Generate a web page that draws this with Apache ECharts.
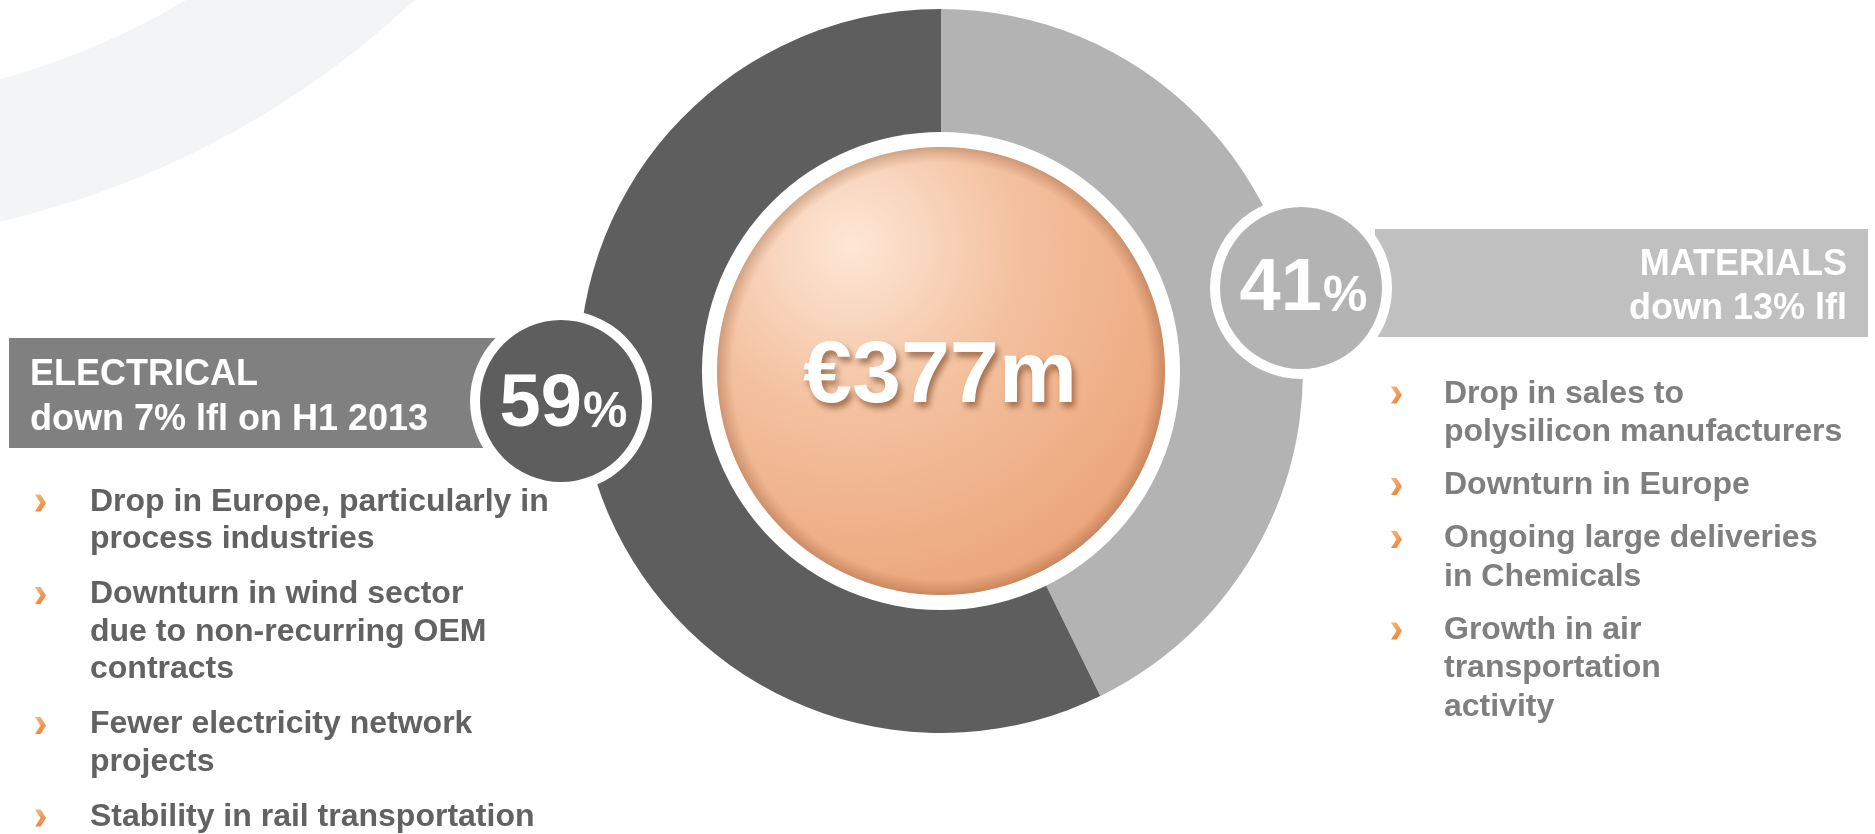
<!DOCTYPE html>
<html>
<head>
<meta charset="utf-8">
<script src="https://cdn.jsdelivr.net/npm/echarts@6/dist/echarts.min.js"></script>
<style>
  html, body { margin: 0; padding: 0; background: #ffffff; }
  #chart { width: 1875px; height: 834px; }
</style>
</head>
<body>
<div id="chart"></div>
<script>
// ---- data ----
const categories = ['MATERIALS', 'ELECTRICAL'];
// arc shares as drawn in the reference donut (split)
const segmentShares = [42.75, 57.25];
const shareLabels = ['41', '59'];
const headlineMaterials = ['MATERIALS', 'down 13% lfl'];
const headlineElectrical = ['ELECTRICAL', 'down 7% lfl on H1 2013'];
const totalLabel = '€377m';
const electricalBullets = [
  ['Drop in Europe, particularly in', 'process industries'],
  ['Downturn in wind sector', 'due to non-recurring OEM', 'contracts'],
  ['Fewer electricity network', 'projects'],
  ['Stability in rail transportation']
];
const materialsBullets = [
  ['Drop in sales to', 'polysilicon manufacturers'],
  ['Downturn in Europe'],
  ['Ongoing large deliveries', 'in Chemicals'],
  ['Growth in air', 'transportation', 'activity']
];

// ---- styling / layout ----
const FONT = '"Liberation Sans", Arial, Helvetica, sans-serif';
const segColors = ['#b3b3b3', '#5e5e5e'];
const CX = 941, CY = 371, R_OUT = 362, R_IN = 238;

const chart = echarts.init(document.getElementById('chart'), null, { renderer: 'canvas' });

const graphics = [];

// background decorative ring
graphics.push({
  type: 'ring', z: -5, silent: true,
  shape: { cx: -204, cy: -658, r: 903, r0: 765 },
  style: { fill: '#f3f4f6' }
});

// headline bars
graphics.push({ type: 'rect', z: 5, silent: true, shape: { x: 9, y: 338, width: 530, height: 110 }, style: { fill: '#808080' } });
graphics.push({ type: 'rect', z: 5, silent: true, shape: { x: 1375, y: 229, width: 493, height: 108 }, style: { fill: '#c0c0c0' } });

function textEl(str, x, baseline, size, color, align, z) {
  return {
    type: 'text', x: x, y: baseline - 0.35 * size + 4, z: z || 30, silent: true,
    style: { text: str, fill: color, font: 'bold ' + size + 'px ' + FONT, textAlign: align || 'left', textVerticalAlign: 'middle', verticalAlign: 'middle' }
  };
}

// headline texts
graphics.push(textEl(headlineElectrical[0], 30, 384, 36, '#ffffff', 'left'));
graphics.push(textEl(headlineElectrical[1], 30, 429, 36, '#ffffff', 'left'));
graphics.push(textEl(headlineMaterials[0], 1847, 274, 36, '#ffffff', 'right'));
graphics.push(textEl(headlineMaterials[1], 1847, 318, 36, '#ffffff', 'right'));

// badges
function badge(cx, cy, fill, num, baseOff) {
  graphics.push({ type: 'circle', z: 20, silent: true, shape: { cx: cx, cy: cy, r: 91 }, style: { fill: '#ffffff' } });
  graphics.push({ type: 'circle', z: 21, silent: true, shape: { cx: cx, cy: cy, r: 81 }, style: { fill: fill } });
  const wNum = 0.556 * num.length * 74, wPct = 0.889 * 50;
  const split = cx + 2 - (wNum + wPct) / 2 + wNum;
  const base = cy + baseOff;
  graphics.push(textEl(num, split, base, 74, '#ffffff', 'right', 25));
  graphics.push(textEl('%', split + 1, base, 50, '#ffffff', 'left', 25));
}
badge(561, 401, segColors[1], shareLabels[1], 26);
badge(1301, 288, segColors[0], shareLabels[0], 23);

// centre disc
graphics.push({ type: 'circle', z: 10, silent: true, shape: { cx: CX, cy: CY, r: R_IN + 1 }, style: { fill: '#ffffff' } });
graphics.push({
  type: 'circle', z: 11, silent: true, shape: { cx: CX, cy: CY, r: 224 },
  style: {
    fill: new echarts.graphic.RadialGradient(0.3, 0.22, 0.85, [
      { offset: 0, color: '#fde7d6' },
      { offset: 0.45, color: '#f3c09e' },
      { offset: 1, color: '#eba479' }
    ])
  }
});
graphics.push({
  type: 'circle', z: 12, silent: true, shape: { cx: CX, cy: CY, r: 224 },
  style: {
    fill: new echarts.graphic.RadialGradient(0.5, 0.5, 0.5, [
      { offset: 0, color: 'rgba(140,70,30,0)' },
      { offset: 0.93, color: 'rgba(140,70,30,0)' },
      { offset: 1, color: 'rgba(120,60,25,0.3)' }
    ])
  }
});
graphics.push({
  type: 'text', x: CX - 1, y: 405 - 0.35 * 88 + 4, z: 13, silent: true,
  style: {
    text: totalLabel, fill: '#ffffff', font: 'bold 88px ' + FONT,
    textAlign: 'center', textVerticalAlign: 'middle', verticalAlign: 'middle',
    textShadowColor: 'rgba(110,55,20,0.6)', textShadowBlur: 6, textShadowOffsetX: 3, textShadowOffsetY: 5
  }
});

// bullets
function chevron(x, yc) {
  return {
    type: 'polygon', z: 30, silent: true,
    shape: { points: [[x, yc - 8.5], [x + 5.5, yc - 8.5], [x + 11, yc], [x + 5.5, yc + 8.5], [x, yc + 8.5], [x + 5.5, yc]] },
    style: { fill: new echarts.graphic.LinearGradient(0, 0, 1, 1, [{ offset: 0, color: '#f7b47e' }, { offset: 1, color: '#ec7f2e' }]) }
  };
}
function bulletList(items, chevX, textX, firstBase, lineStep, itemGap, color) {
  let b = firstBase;
  items.forEach(function (lines, i) {
    graphics.push(chevron(chevX, b - 6));
    lines.forEach(function (ln, j) {
      graphics.push(textEl(ln, textX, b, 32, color, 'left'));
      if (j < lines.length - 1) b += lineStep;
    });
    b += lineStep + itemGap;
  });
}
bulletList(electricalBullets, 35, 90, 509, 37.5, 17.5, '#626262');
bulletList(materialsBullets, 1391, 1444, 401, 38.5, 14.5, '#7f7f7f');

chart.setOption({
  animation: false,
  backgroundColor: '#ffffff',
  series: [{
    type: 'pie',
    center: [CX, CY],
    radius: [R_IN, R_OUT],
    startAngle: 90,
    clockwise: true,
    silent: true,
    z: 2,
    label: { show: false },
    labelLine: { show: false },
    emphasis: { disabled: true },
    itemStyle: { borderWidth: 0 },
    data: categories.map(function (c, i) {
      return { name: c, value: segmentShares[i], itemStyle: { color: segColors[i] } };
    })
  }],
  graphic: { elements: graphics }
});
</script>
</body>
</html>
